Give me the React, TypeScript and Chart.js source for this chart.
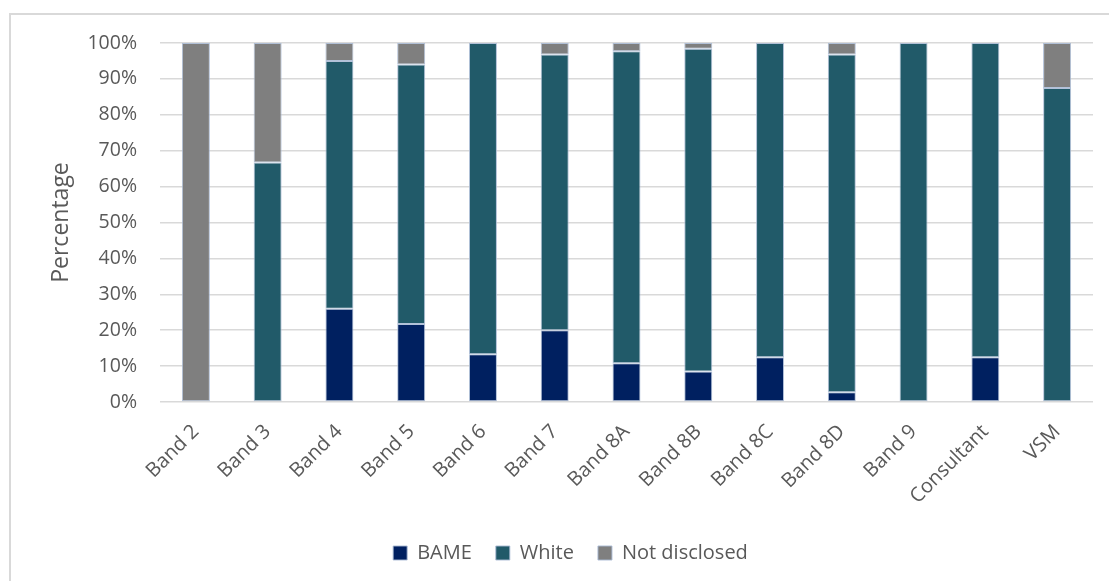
import React, { useEffect, useRef } from "react";
import { Chart, registerables } from "chart.js";

Chart.register(...registerables);

// Staff bands and the ethnicity split within each band (percent of staff)
const categories = [
  "Band 2", "Band 3", "Band 4", "Band 5", "Band 6", "Band 7", "Band 8A",
  "Band 8B", "Band 8C", "Band 8D", "Band 9", "Consultant", "VSM",
];
const bameValues = [0, 0, 26.0, 21.7, 13.3, 20.0, 10.8, 8.5, 12.5, 2.7, 0, 12.5, 0];
const whiteValues = [0, 66.7, 69.0, 72.3, 86.7, 76.8, 86.9, 89.9, 87.5, 94.1, 100, 87.5, 87.5];
const notDisclosedValues = [100, 33.3, 5.0, 6.0, 0, 3.2, 2.3, 1.6, 0, 3.2, 0, 0, 12.5];

const seriesLabels = ["BAME", "White", "Not disclosed"];
const seriesColors = ["#002060", "#215A69", "#7F7F7F"];

const yTicks = { min: 0, max: 100, step: 10 };
const yTitle = "Percentage";

const FONT = "'Open Sans', 'Liberation Sans', sans-serif";
const TEXT = "#595959";

// Centre the legend under the plot area rather than the whole canvas
const legendShift = {
  id: "legendShift",
  afterLayout(chart: any) {
    if (chart.legend) chart.legend.left += 48;
  },
};

export default function App() {
  const canvasRef = useRef<HTMLCanvasElement | null>(null);

  useEffect(() => {
    if (!canvasRef.current) return;
    const seriesValues = [bameValues, whiteValues, notDisclosedValues];
    const chart = new Chart(canvasRef.current, {
      type: "bar",
      data: {
        labels: categories,
        datasets: seriesLabels.map((label, i) => ({
          label,
          data: seriesValues[i],
          backgroundColor: seriesColors[i],
          borderColor: "rgba(170,186,212,0.9)",
          borderWidth: 1,
          borderSkipped: false,
          categoryPercentage: 1,
          barPercentage: 0.39,
        })),
      },
      plugins: [legendShift],
      options: {
        animation: false,
        responsive: true,
        maintainAspectRatio: false,
        layout: { padding: { top: 43, right: 16, left: 0, bottom: 8 } },
        plugins: {
          tooltip: { enabled: false },
          legend: {
            position: "bottom",
            labels: {
              boxWidth: 14,
              boxHeight: 14,
              padding: 24,
              color: TEXT,
              font: { family: FONT, size: 20 },
            },
          },
        },
        scales: {
          x: {
            stacked: true,
            grid: { display: false },
            border: { display: false },
            ticks: {
              color: TEXT,
              font: { family: FONT, size: 20 },
              minRotation: 45,
              maxRotation: 45,
              padding: 10,
            },
            afterFit: (scale: any) => {
              scale.height = 117;
            },
          },
          y: {
            stacked: true,
            min: yTicks.min,
            max: yTicks.max,
            grid: { color: "#D9D9D9", lineWidth: 1.5, drawTicks: false },
            border: { display: false },
            ticks: {
              stepSize: yTicks.step,
              color: TEXT,
              font: { family: FONT, size: 19.5 },
              padding: 23,
              callback: (v: any) => `${v}%`,
            },
            title: {
              display: true,
              text: yTitle,
              color: TEXT,
              font: { family: FONT, size: 23 },
              padding: { top: 48, bottom: 0 },
            },
            afterFit: (scale: any) => {
              scale.width = 160;
            },
          },
        },
      },
    });
    return () => chart.destroy();
  }, []);

  return (
    <div
      style={{
        position: "fixed",
        left: 0,
        top: 0,
        width: 1109,
        height: 581,
        background: "#ffffff",
        overflow: "hidden",
      }}
    >
      <div
        style={{
          position: "absolute",
          left: 9,
          top: 13,
          width: 1200,
          height: 700,
          borderLeft: "2px solid #D9D9D9",
          borderTop: "2px solid #D9D9D9",
        }}
      />
      <canvas ref={canvasRef} style={{ position: "absolute", left: 0, top: 0 }} />
    </div>
  );
}
